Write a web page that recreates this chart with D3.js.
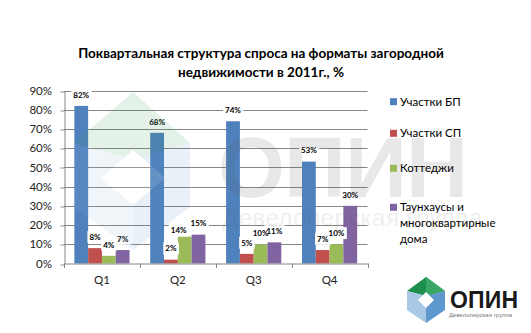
<!DOCTYPE html>
<html><head><meta charset="utf-8">
<script src="https://cdn.jsdelivr.net/npm/d3@7"></script>
<style>body{margin:0;background:#fff;}svg{display:block;font-family:Lato,"Liberation Sans",sans-serif;}</style>
</head><body><svg id="c" width="531" height="333"></svg>
<script>
const categories = ["Q1","Q2","Q3","Q4"];
const seriesNames = ["Участки БП","Участки СП","Коттеджи","Таунхаусы и многоквартирные дома"];
const seriesBP = [82, 68, 74, 53];
const seriesSP = [8, 2, 5, 7];
const seriesCottages = [4, 14, 10, 10];
const seriesTownhouses = [7, 15, 11, 30];
const yTicks = [0,10,20,30,40,50,60,70,80,90];
const colors = ["#4F81BD","#C0504D","#9BBB59","#8064A2"];
const allSeries = [seriesBP, seriesSP, seriesCottages, seriesTownhouses];

const svg = d3.select("#c");
const x = d3.scaleBand().domain(categories).range([64, 367.5]).padding(0);
const y = d3.scaleLinear().domain([0, 90]).range([263.5, 90.5]);

// gridlines
svg.append("g").selectAll("line").data(yTicks.filter(d=>d>0)).join("line")
  .attr("x1",64).attr("x2",367.5).attr("y1",d=>Math.round(y(d))+0.5).attr("y2",d=>Math.round(y(d))+0.5)
  .attr("stroke","#868686").attr("stroke-width",1);

// y axis
const yAxis = d3.axisLeft(y).tickValues(yTicks).tickFormat(d=>d+"%").tickSize(4).tickSizeOuter(0);
const gy = svg.append("g").attr("transform","translate(64.5,0)").call(yAxis);
gy.selectAll("line").attr("stroke","#868686").attr("transform",d=>`translate(0,${Math.round(y(d))+0.5-y(d)})`);
gy.select(".domain").attr("stroke","#868686");
gy.selectAll("text").attr("font-size",11.5).attr("fill","#222").attr("x",-12.5).attr("font-family","Lato");

// bars
const w = x.bandwidth()/5.5;
const bars = [];
categories.forEach((c,ci)=>{
  allSeries.forEach((s,si)=>{
    bars.push({c, si, v:s[ci], x0: x(c)+0.75*w+si*w});
  });
});
svg.append("g").selectAll("rect").data(bars).join("rect")
  .attr("x",d=>d.x0).attr("width",w).attr("y",d=>y(d.v)).attr("height",d=>y(0)-y(d.v))
  .attr("fill",d=>colors[d.si]);

// x axis
const xAxis = d3.axisBottom(x).tickSize(0).tickSizeOuter(0);
const gx = svg.append("g").attr("transform","translate(0,263.5)").call(xAxis);
gx.select(".domain").attr("stroke","#868686");
gx.selectAll("text").attr("font-size",11.5).attr("fill","#222").attr("dy","1.55em").attr("font-family","Lato");
// category separator ticks
const sep = categories.map(c=>x(c)).concat([x.range()[1]]);
svg.append("g").selectAll("line").data(sep).join("line")
  .attr("x1",d=>Math.round(d)+0.5).attr("x2",d=>Math.round(d)+0.5).attr("y1",263.5).attr("y2",268)
  .attr("stroke","#868686");

// data labels (label of a bar pushed left/down if it would collide with the next one)
const lg = svg.append("g");
bars.forEach((d,i)=>{
  let cx = d.x0 + w/2;
  let cy = y(d.v) - 11;
  const next = bars[i+1];
  if (next && next.c === d.c && next.v > d.v && Math.abs(next.v - d.v) < 3 && d.v > 10) { cx -= 6; cy += 5; }
  const t = lg.append("text").attr("x",cx).attr("y",cy).attr("text-anchor","middle").attr("dy","0.35em")
    .attr("font-size",8).attr("font-weight","bold").attr("fill","#000").attr("font-family","Lato").text(d.v+"%");
  const bb = t.node().getBBox();
  lg.insert("rect","text").attr("x",bb.x-2).attr("y",bb.y-1).attr("width",bb.width+4).attr("height",bb.height+2).attr("fill","#fff");
});

// watermark (semi-transparent, on top)
const wm = svg.append("g").attr("opacity",0.13);
wm.append("polygon").attr("points",[[133,92],[190,143],[133,160],[74,143]].join(" ")).attr("fill","#2e9a52");
wm.append("polygon").attr("points",[[74,143],[133,160],[133,250],[74,207]].join(" ")).attr("fill","#8fb8dc");
wm.append("polygon").attr("points",[[190,143],[133,160],[133,250],[190,207]].join(" ")).attr("fill","#5b93c8");
wm.append("polygon").attr("points",[[133,150],[165,178],[133,205],[101,178]].join(" ")).attr("fill","#fff");
wm.append("text").attr("x",218).attr("y",197).attr("font-size",86).attr("font-weight","bold").attr("fill","#555").attr("font-family","Liberation Sans").attr("textLength",250).text("ОПИН");
const wm2 = svg.append("g").attr("opacity",0.09);
wm2.append("text").attr("x",222).attr("y",226).attr("font-size",24).attr("fill","#555").attr("font-family","Liberation Sans").attr("textLength",260).text("Девелоперская группа");

// title
const title = svg.append("g").attr("font-weight","bold").attr("font-size",13.5).attr("fill","#000").attr("text-anchor","middle").style("white-space","pre");
title.append("text").attr("x",261).attr("y",58).text("Поквартальная структура спроса на форматы загородной");
title.append("text").attr("x",261).attr("y",76.5).text("недвижимости в 2011г.,  %");

// legend
const legendY = [101.7, 133.3, 168.3, 207.3];
const legendLines = [["Участки БП"],["Участки СП"],["Коттеджи"],["Таунхаусы и","многоквартирные","дома"]];
const leg = svg.append("g");
legendLines.forEach((lines,i)=>{
  leg.append("rect").attr("x",390).attr("y",legendY[i]-3.5).attr("width",7).attr("height",7).attr("fill",colors[i]);
  lines.forEach((ln,j)=>{
    leg.append("text").attr("x",400).attr("y",legendY[i]+j*16).attr("dy","0.35em").attr("font-size",11.5).attr("fill","#000").text(ln);
  });
});

// logo bottom right
const logo = svg.append("g");
logo.append("polygon").attr("points",[[426,277],[445,291],[426,296],[407,291]].join(" ")).attr("fill","#1f8f4e");
logo.append("polygon").attr("points",[[426,277],[445,291],[426,296]].join(" ")).attr("fill","#3aa864");
logo.append("polygon").attr("points",[[407,291],[426,296],[426,323],[407,310]].join(" ")).attr("fill","#a9c8e6");
logo.append("polygon").attr("points",[[445,291],[426,296],[426,323],[445,310]].join(" ")).attr("fill","#5e98cf");
logo.append("polygon").attr("points",[[426,292],[434,300],[426,308],[418,300]].join(" ")).attr("fill","#fff");
logo.append("text").attr("x",450).attr("y",308).attr("font-size",23).attr("font-weight","bold").attr("fill","#1a1a1a").attr("font-family","Liberation Sans").attr("textLength",68).text("ОПИН");
logo.append("text").attr("x",449).attr("y",316.5).attr("font-size",6).attr("fill","#777").attr("font-family","Liberation Sans").attr("textLength",63).text("Девелоперская группа");
</script></body></html>
